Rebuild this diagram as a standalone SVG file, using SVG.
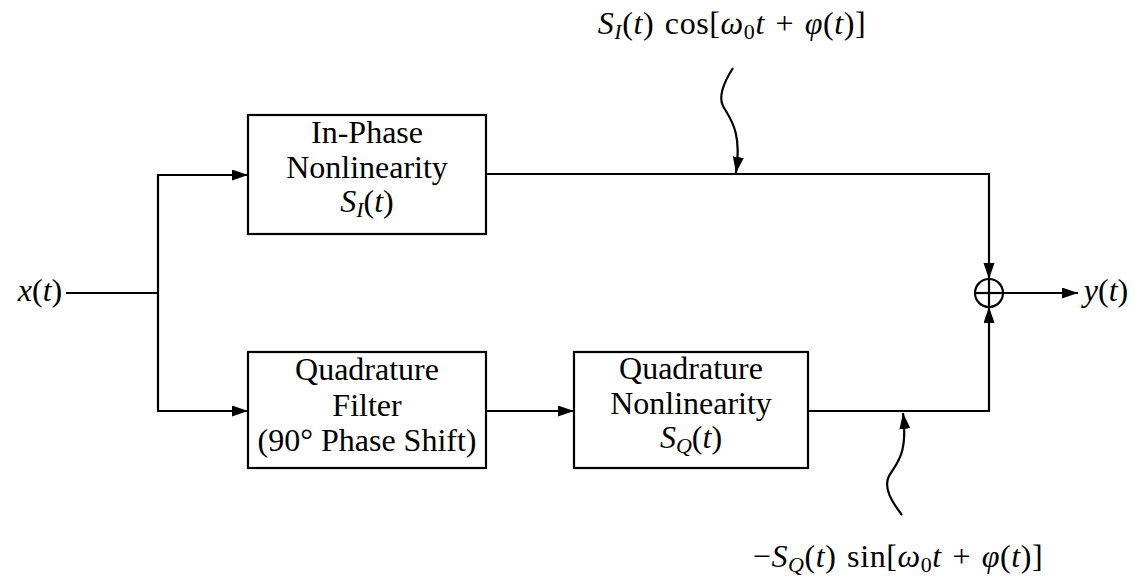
<svg xmlns="http://www.w3.org/2000/svg" width="1148" height="580" viewBox="0 0 1148 580">
  <style>
    text { font-family: "Liberation Serif", "DejaVu Serif", serif; font-size: 32px; fill: #000; }
    .i { font-style: italic; }
    .sub { font-size: 22px; }
    .math { letter-spacing: 0.6px; word-spacing: 2px; }
    .box { fill: #fff; stroke: #000; stroke-width: 2.2; }
    .wire { fill: none; stroke: #000; stroke-width: 2.2; }
  </style>
  <defs>
    <marker id="arrow" markerUnits="userSpaceOnUse" markerWidth="17" markerHeight="12" refX="16" refY="5.5" orient="auto">
      <path d="M0,0 L16,5.5 L0,11 z" fill="#000"/>
    </marker>
  </defs>

  <rect width="1148" height="580" fill="#fff"/>

  <!-- connectors -->
  <g id="connectors">
    <polyline class="wire" points="66,293 158,293"/>
    <polyline class="wire" points="158,293 158,175 248,175" marker-end="url(#arrow)"/>
    <polyline class="wire" points="158,293 158,411 248,411" marker-end="url(#arrow)"/>
    <polyline class="wire" points="486,411 574,411" marker-end="url(#arrow)"/>
    <polyline class="wire" points="486,174 989,174 989,279" marker-end="url(#arrow)"/>
    <polyline class="wire" points="808,411 989,411 989,307" marker-end="url(#arrow)"/>
    <polyline class="wire" points="1003,293 1078,293" marker-end="url(#arrow)"/>
    <!-- pointers to the signal labels -->
    <path class="wire" d="M733,68 C724,82 718,96 723,106 C731,120 742,132 736,173" marker-end="url(#arrow)"/>
    <path class="wire" d="M902,515 C892,502 883,488 889,476 C897,462 908,455 903,413" marker-end="url(#arrow)"/>
  </g>

  <!-- input -->
  <g id="input">
    <text x="40" y="301" text-anchor="middle"><tspan class="i">x</tspan>(<tspan class="i">t</tspan>)</text>
  </g>

  <!-- in-phase branch -->
  <g id="inphase">
    <rect class="box" x="248" y="115" width="238" height="119"/>
    <text x="367" y="143" text-anchor="middle">In-Phase</text>
    <text x="367" y="178" text-anchor="middle">Nonlinearity</text>
    <text x="367" y="212" text-anchor="middle"><tspan class="i">S</tspan><tspan class="i sub" dy="5">I</tspan><tspan dy="-5">(</tspan><tspan class="i">t</tspan>)</text>
  </g>

  <!-- quadrature filter -->
  <g id="qfilter">
    <rect class="box" x="248" y="352" width="238" height="116"/>
    <text x="367" y="380" text-anchor="middle">Quadrature</text>
    <text x="367" y="416" text-anchor="middle">Filter</text>
    <text x="367" y="451" text-anchor="middle">(90° Phase Shift)</text>
  </g>

  <!-- quadrature nonlinearity -->
  <g id="qnonlin">
    <rect class="box" x="574" y="352" width="234" height="116"/>
    <text x="691" y="379" text-anchor="middle">Quadrature</text>
    <text x="691" y="414" text-anchor="middle">Nonlinearity</text>
    <text x="691" y="448" text-anchor="middle"><tspan class="i">S</tspan><tspan class="i sub" dy="5">Q</tspan><tspan dy="-5">(</tspan><tspan class="i">t</tspan>)</text>
  </g>

  <!-- summing junction -->
  <g id="sum">
    <circle cx="989" cy="293" r="14" fill="#fff" stroke="#000" stroke-width="2.2"/>
    <line x1="975" y1="293" x2="1003" y2="293" stroke="#000" stroke-width="2.2"/>
    <line x1="989" y1="279" x2="989" y2="307" stroke="#000" stroke-width="2.2"/>
  </g>

  <!-- output -->
  <g id="output">
    <text x="1106" y="301" text-anchor="middle"><tspan class="i">y</tspan>(<tspan class="i">t</tspan>)</text>
  </g>

  <!-- signal labels -->
  <g id="label-inphase">
    <text class="math" x="732" y="34" text-anchor="middle"><tspan class="i">S</tspan><tspan class="i sub" dy="5">I</tspan><tspan dy="-5">(</tspan><tspan class="i">t</tspan>) cos[<tspan class="i">ω</tspan><tspan class="sub" dy="5">0</tspan><tspan class="i" dy="-5">t</tspan> + <tspan class="i">φ</tspan>(<tspan class="i">t</tspan>)]</text>
  </g>
  <g id="label-quadrature">
    <text class="math" x="898" y="567" text-anchor="middle">−<tspan class="i">S</tspan><tspan class="i sub" dy="5">Q</tspan><tspan dy="-5">(</tspan><tspan class="i">t</tspan>) sin[<tspan class="i">ω</tspan><tspan class="sub" dy="5">0</tspan><tspan class="i" dy="-5">t</tspan> + <tspan class="i">φ</tspan>(<tspan class="i">t</tspan>)]</text>
  </g>
</svg>
